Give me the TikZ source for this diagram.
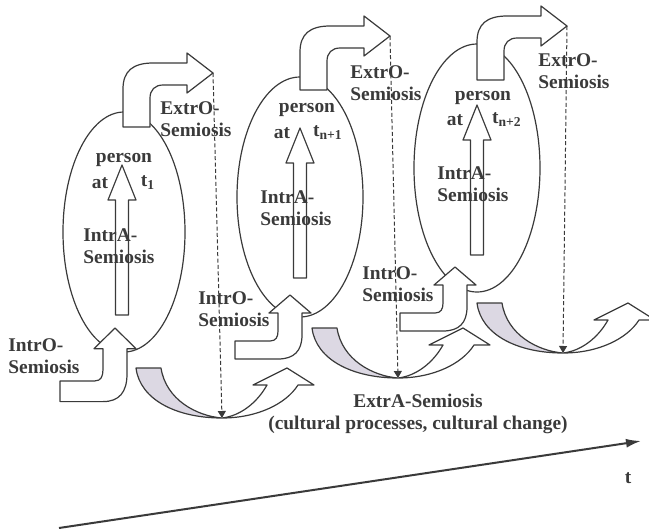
\documentclass[tikz,border=0pt]{standalone}
\usepackage{fontspec}
\setmainfont{Liberation Serif}
\usetikzlibrary{arrows.meta,positioning}
\definecolor{inkgray}{HTML}{3A3A3A}
\definecolor{crescent}{HTML}{DCD8E3}

\tikzset{
shapeline/.style={draw=inkgray,line width=0.6pt,line join=round},
lbl/.style={text=inkgray,font=\fontsize{9.7}{11}\selectfont\bfseries,inner sep=0pt,align=left},
droplink/.style={draw=inkgray,line width=0.5pt,dash pattern=on 2pt off 1.2pt,-{Triangle[length=3.5pt,width=4pt]}},
axisline/.style={draw=inkgray,line width=1pt,-{Latex[length=7.5pt,width=4.5pt]}},
% block arrow inside a person
intra/.pic={
\draw[shapeline,fill=white] (0,0) -- (14,35) -- (6.5,35) -- (6.5,150)
  -- (-6.5,150) -- (-6.5,35) -- (-14,35) -- cycle;
},
% bent arrow coming in from the left
intro/.pic={
\draw[shapeline,fill=white] (0,0) -- (21,18) -- (12,18) -- (12,40)
  .. controls (12,56) and (4,64) .. (-12,64) -- (-55,64) -- (-55,46)
  -- (-20,46) .. controls (-14,46) and (-12,42) .. (-12,36)
  -- (-12,18) -- (-21,18) -- cycle;
},
% bent arrow going out to the right
extro/.pic={
\draw[shapeline,fill=white] (0,0) -- (0,-38) .. controls (0,-56) and (10,-64) .. (30,-64)
  -- (64,-64) -- (64,-74) -- (90,-54) -- (64,-34) -- (64,-42) -- (40,-42)
  .. controls (32,-42) and (27,-37) .. (27,-29) -- (27,0) -- cycle;
\coordinate (-tip) at (90,-54);
},
% curved up arrow of the culture
extra/.pic={
\fill[white] (-61,-50) -- (-86,-50) .. controls (-82,-18) and (-45,0) .. (0,0)
  .. controls (35,0) and (64,-14) .. (76,-33) -- (92,-33) -- (65,-50) -- (31,-33) -- (45,-33)
  .. controls (35,-15) and (18,-2) .. (0,0) .. controls (-25,-2) and (-56,-18) .. (-61,-50) -- cycle;
\fill[crescent] (-61,-50) -- (-86,-50) .. controls (-82,-18) and (-45,0) .. (0,0)
  .. controls (-25,-2) and (-56,-18) .. (-61,-50) -- cycle;
\draw[shapeline] (-61,-50) -- (-86,-50) .. controls (-82,-18) and (-45,0) .. (0,0)
  .. controls (35,0) and (64,-14) .. (76,-33) -- (92,-33) -- (65,-50) -- (31,-33) -- (45,-33)
  .. controls (35,-15) and (18,-2) .. (0,0) .. controls (-25,-2) and (-56,-18) .. (-61,-50) -- cycle;
\coordinate (-low) at (0,0);
}
}

\begin{document}
\begin{tikzpicture}[x=0.5pt,y=-0.5pt]
\useasboundingbox (0,0) rectangle (649,531);

% persons
\draw[shapeline] (124,232) ellipse [x radius=61,y radius=120];
\draw[shapeline] (300,197) ellipse [x radius=63,y radius=120];
\draw[shapeline] (477,168) ellipse [x radius=63,y radius=124];

\pic at (122,165) {intra};
\pic at (300,128) {intra};
\pic at (477,105) {intra};

\node[lbl] (per1) at (124,160) {person};
\node[lbl] (at1) at (100,183) {at};
\node[lbl] (tm1) at (148,183) {t\textsubscript{1}};
\node[lbl,anchor=west] (ia1) at (83,246) {IntrA-\\Semiosis};

\node[lbl] (per2) at (307,110) {person};
\node[lbl] (at2) at (282,133) {at};
\node[lbl] (tm2) at (328,133) {t\textsubscript{n+1}};
\node[lbl,anchor=west] (ia2) at (260,208) {IntrA-\\Semiosis};

\node[lbl] (per3) at (483,98) {person};
\node[lbl] (at3) at (455,120) {at};
\node[lbl] (tm3) at (507,120) {t\textsubscript{n+2}};
\node[lbl,anchor=west] (ia3) at (437,184) {IntrA-\\Semiosis};

% culture
\pic (xa1) at (222,418) {extra};
\pic (xa2) at (398,378) {extra};
\pic (xa3) at (563,353) {extra};

\pic[yscale=1.15] at (115,328) {intro};
\pic at (290,295) {intro};
\pic at (455,267) {intro};

\pic (xo1) at (123,127) {extro};
\pic (xo2) at (300,90) {extro};
\pic (xo3) at (477,80) {extro};

\node[lbl,anchor=west] (io1) at (8,356) {IntrO-\\Semiosis};
\node[lbl,anchor=west] (io2) at (198,309) {IntrO-\\Semiosis};
\node[lbl,anchor=west] (io3) at (362,284) {IntrO-\\Semiosis};

\node[lbl,anchor=west] (eo1) at (160,119) {ExtrO-\\Semiosis};
\node[lbl,anchor=west] (eo2) at (350,83) {ExtrO-\\Semiosis};
\node[lbl,anchor=west] (eo3) at (538,71) {ExtrO-\\Semiosis};

\draw[droplink] (xo1-tip) -- (xa1-low);
\draw[droplink] (xo2-tip) -- (xa2-low);
\draw[droplink] (xo3-tip) -- (xa3-low);

\node[lbl,align=center] (ea) at (418,414) {ExtrA-Semiosis\\(cultural processes, cultural change)};

% time
\coordinate (ax0) at (59,528);
\coordinate (ax1) at (641,441);
\draw[axisline] (ax0) -- (ax1);
\node[lbl] (tlbl) at (628,478) {t};
\end{tikzpicture}
\end{document}
